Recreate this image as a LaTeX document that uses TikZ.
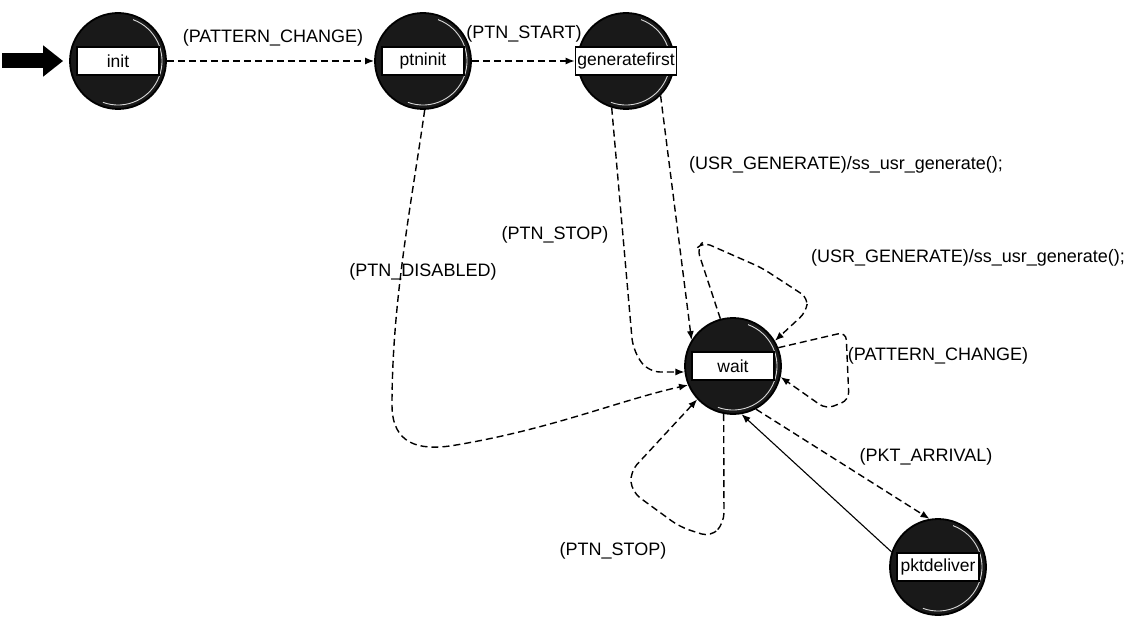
\documentclass[tikz,border=0pt]{standalone}
\usepackage{fontspec}
\setmainfont{Liberation Sans}
\usetikzlibrary{arrows.meta}
\tikzset{
  state/.style={circle, draw=black, line width=1.8pt, fill=black!90, minimum size=96pt, inner sep=0pt},
  namebox/.style={draw=black, fill=white, line width=1.4pt, minimum width=82pt, minimum height=28pt, inner sep=2pt, font=\fontsize{17.5}{19}\selectfont},
  lab/.style={font=\fontsize{18}{20}\selectfont, inner sep=1pt},
  hl/.style={draw=white!85!black, line width=0.9pt},
  tr/.style={draw=black, line width=1.4pt, dash pattern=on 7pt off 4pt, -{Latex[length=9pt,width=7pt]}},
  trsolid/.style={draw=black, line width=1.1pt, -{Latex[length=9pt,width=7pt]}},
  startarrow/.style={draw=black, line width=15pt, -{Triangle[length=20pt 0,width=30pt 0]}}
}
\begin{document}
\begin{tikzpicture}[x=1pt,y=-1pt]
\useasboundingbox (0,0) rectangle (1140,623);
% transition labels
\node[lab] (lpc1) at (273,38) {(PATTERN\_CHANGE)};
\node[lab] (lps) at (524,34) {(PTN\_START)};
\node[lab] (lug1) at (846,165) {(USR\_GENERATE)/ss\_usr\_generate();};
\node[lab] (lpst1) at (555,235) {(PTN\_STOP)};
\node[lab] (lpd) at (423,272) {(PTN\_DISABLED)};
\node[lab] (lug2) at (968,258) {(USR\_GENERATE)/ss\_usr\_generate();};
\node[lab] (lpc2) at (938,356) {(PATTERN\_CHANGE)};
\node[lab] (lpa) at (926,457) {(PKT\_ARRIVAL)};
\node[lab] (lpst2) at (613,551) {(PTN\_STOP)};
% states
\node[state] (init) at (118,61) {};
\node[state] (ptninit) at (423,61) {};
\node[state] (gf) at (626,61) {};
\node[state] (wait) at (733,366) {};
\node[state] (pkt) at (938,567) {};
\foreach \s in {init,ptninit,gf,wait,pkt}{
  \draw[hl] (\s) ++(-110:44pt) arc[start angle=-110, end angle=70, radius=44pt];
}
\node[namebox] (initL) at (init) {init};
\node[namebox] (ptninitL) at (ptninit) {ptninit};
\node[namebox] (gfL) at (gf) {generatefirst};
\node[namebox] (waitL) at (wait) {wait};
\node[namebox] (pktL) at (pkt) {pktdeliver};
% initial arrow
\coordinate (s) at (2,61);
\draw[startarrow, shorten >=6pt] (s) -- (init.west);
% transitions
\draw[tr] (init.east) -- (ptninit.west);
\draw[tr] (ptninit.east) -- (gfL.west);
\draw[tr] (gf.-45) -- (wait.148);
\draw[tr, rounded corners=12pt] (gf.253) -- (633,350) -- (648,372) -- (wait.187);
\draw[tr] (ptninit.272) .. controls (412,200) and (392,300) .. (392,405)
  .. controls (392,445) and (420,450) .. (450,446)
  .. controls (550,430) and (620,400) .. (wait.203);
\draw[tr, rounded corners=8pt] (wait.105) -- (697,248) -- (703,242) -- (762,268) -- (808,298) -- (806,312) -- (wait.31);
\draw[tr, rounded corners=8pt] (wait.22) -- (846,332) -- (849,400) -- (826,409) -- (wait.-13);
\draw[tr, rounded corners=10pt] (wait.259) -- (724,523) -- (711,537) -- (680,527) -- (632,492) -- (630,472) -- (wait.223);
\draw[tr] (wait.-62) -- (pkt.100);
\draw[trsolid] (pkt.162) -- (wait.-80);
\end{tikzpicture}
\end{document}
